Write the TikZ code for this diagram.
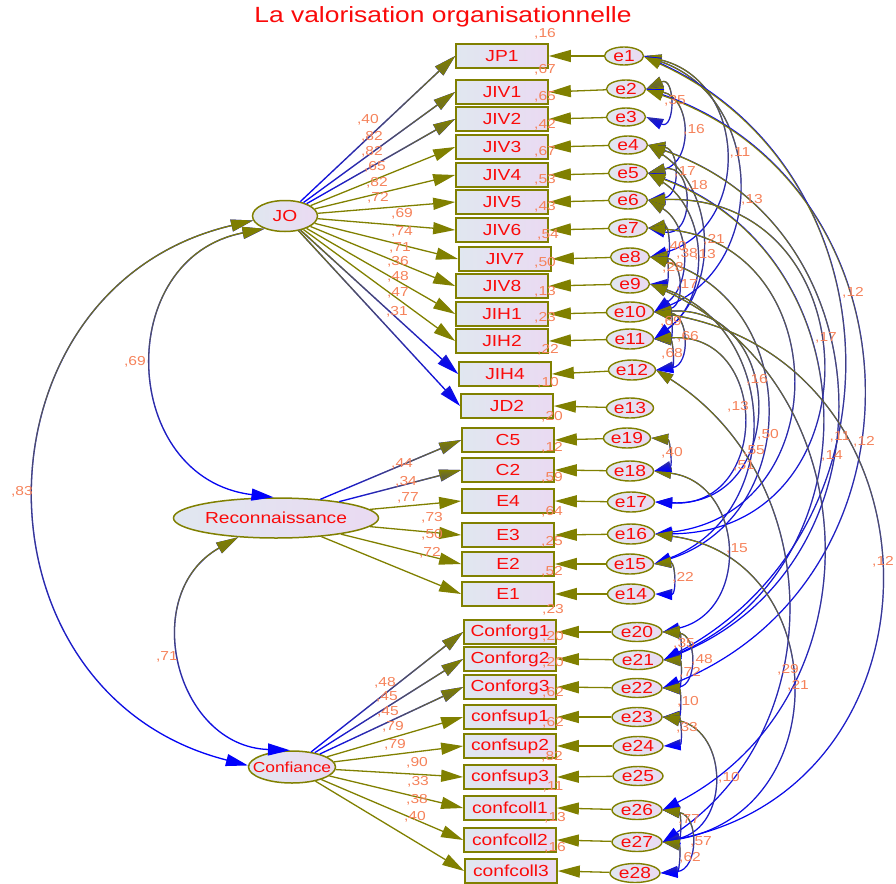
\documentclass[tikz,border=0pt]{standalone}
\usepackage{fontspec}
\newfontfamily\amosfont[FakeStretch=1.2]{Liberation Sans}
\usetikzlibrary{arrows.meta,fadings,shapes.geometric}
\definecolor{olv}{RGB}{128,128,0}
\definecolor{blu}{RGB}{0,0,255}
\definecolor{txr}{RGB}{250,10,10}
\definecolor{lbo}{RGB}{245,130,90}
\definecolor{fl}{RGB}{224,231,240}
\definecolor{fr}{RGB}{234,218,242}
\tikzfading[name=fadedown, top color=transparent!0, bottom color=transparent!100]
\newcommand\amosfs[1]{\amosfont\fontsize{#1}{#1}\selectfont}
\newcommand\cvarc[4][]{%
  \path (#2); \pgfgetlastxy{\cvAx}{\cvAy}%
  \path (#3); \pgfgetlastxy{\cvBx}{\cvBy}%
  \pgfmathsetmacro\cvHc{veclen(\cvBx-\cvAx,\cvBy-\cvAy)/2}%
  \pgfmathsetmacro\cvPh{2*atan((#4)/\cvHc)}%
  \pgfmathsetmacro\cvDd{4/3*abs(#4)/abs(sin(\cvPh))}%
  \draw[cvl,draw=blu,#1] (#2) to[bend left=\cvPh, distance=\cvDd pt] (#3);
  \draw[cvl,draw=olv,path fading=fadedown,#1] (#2) to[bend left=\cvPh, distance=\cvDd pt] (#3);
}
\newcommand\regf[2]{%
  \draw[reg,draw=blu] (#1) -- (#2);
  \draw[reg,path fading=fadedown] (#1) -- (#2);
}
\tikzset{
  obs/.style={draw=olv, line width=1.7pt, left color=fl, right color=fr,
    minimum width=92pt, minimum height=23.5pt, inner sep=0pt,
    font=\amosfs{16}, text=txr},
  err/.style={ellipse, draw=olv, line width=1.4pt, left color=fl, right color=fr,
    minimum width=39pt, minimum height=18pt, inner sep=0pt,
    font=\amosfs{16}, text=txr},
  errw/.style={err, minimum width=47pt, minimum height=20pt},
  errx/.style={err, minimum width=50pt, minimum height=19pt},
  lat/.style={ellipse, draw=olv, line width=1.5pt, left color=fl, right color=fr,
    inner sep=0pt, font=\amosfs{16}, text=txr},
  lbl/.style={font=\amosfs{13}, text=lbo, inner sep=0pt},
  reg/.style={draw=olv, line width=1.3pt, -{Triangle[length=22pt,width=12pt]}},
  cvl/.style={line width=1.2pt, {Triangle[length=17pt,width=11pt]}-{Triangle[length=17pt,width=11pt]}},
  lcv/.style={line width=1.3pt, {Triangle[length=22pt,width=12pt]}-{Triangle[length=22pt,width=12pt]}},
}
\begin{document}
\begin{tikzpicture}[x=1pt,y=-1pt]
\useasboundingbox (0,0) rectangle (896,883);
\node[font=\amosfs{22}, text=txr] (title) at (443,17) {La valorisation organisationnelle};
% observed variables
\node[obs] (JP1) at (502,56) {JP1};
\node[obs] (JIV1) at (502,92) {JIV1};
\node[obs] (JIV2) at (502,119) {JIV2};
\node[obs] (JIV3) at (502,147) {JIV3};
\node[obs] (JIV4) at (502,175) {JIV4};
\node[obs] (JIV5) at (502,202) {JIV5};
\node[obs] (JIV6) at (502,230) {JIV6};
\node[obs] (JIV7) at (505,259) {JIV7};
\node[obs] (JIV8) at (502,286) {JIV8};
\node[obs] (JIH1) at (502,314) {JIH1};
\node[obs] (JIH2) at (502,341) {JIH2};
\node[obs] (JIH4) at (505,374) {JIH4};
\node[obs] (JD2) at (507,406) {JD2};
\node[obs] (C5) at (508,440) {C5};
\node[obs] (C2) at (508,470) {C2};
\node[obs] (E4) at (508,501) {E4};
\node[obs] (E3) at (508,535) {E3};
\node[obs] (E2) at (508,564) {E2};
\node[obs] (E1) at (508,594) {E1};
\node[obs] (CO1) at (510,632) {Conforg1};
\node[obs] (CO2) at (510,659) {Conforg2};
\node[obs] (CO3) at (510,687) {Conforg3};
\node[obs] (CS1) at (510,717) {confsup1};
\node[obs] (CS2) at (510,746) {confsup2};
\node[obs] (CS3) at (510,777) {confsup3};
\node[obs] (CC1) at (510,808) {confcoll1};
\node[obs] (CC2) at (510,840) {confcoll2};
\node[obs] (CC3) at (511,871) {confcoll3};
% errors
\node[err] (e1) at (624,56) {e1};
\node[err] (e2) at (626,89) {e2};
\node[err] (e3) at (626,117) {e3};
\node[err] (e4) at (628,145) {e4};
\node[err] (e5) at (628,173) {e5};
\node[err] (e6) at (628,200) {e6};
\node[err] (e7) at (628,228) {e7};
\node[err] (e8) at (630,257) {e8};
\node[err] (e9) at (630,284) {e9};
\node[errw] (e10) at (630,312) {e10};
\node[errw] (e11) at (630,339) {e11};
\node[errw] (e12) at (632,370) {e12};
\node[errw] (e13) at (630,408) {e13};
\node[errw] (e19) at (627,438) {e19};
\node[errw] (e18) at (630,471) {e18};
\node[errw] (e17) at (631,502) {e17};
\node[errw] (e16) at (631,534) {e16};
\node[errw] (e15) at (630,564) {e15};
\node[errw] (e14) at (631,594) {e14};
\node[errx] (e20) at (637,632) {e20};
\node[errx] (e21) at (638,660) {e21};
\node[errx] (e22) at (637,688) {e22};
\node[errx] (e23) at (637,717) {e23};
\node[errx] (e24) at (638,746) {e24};
\node[errx] (e25) at (638,776) {e25};
\node[errx] (e26) at (637,810) {e26};
\node[errx] (e27) at (637,842) {e27};
\node[errx] (e28) at (635,873) {e28};
% latent
\node[lat, minimum width=65pt, minimum height=31pt] (JO) at (285,216) {JO};
\node[lat, minimum width=205pt, minimum height=40pt] (REC) at (276,518) {Reconnaissance};
\node[lat, minimum width=87pt, minimum height=32pt, inner xsep=-11pt, font=\amosfs{14.5}] (CONF) at (292,767) {Confiance};
% error arrows
\foreach \e/\b in {e1/JP1,e2/JIV1,e3/JIV2,e4/JIV3,e5/JIV4,e6/JIV5,e7/JIV6,e8/JIV7,e9/JIV8,e10/JIH1,e11/JIH2,e12/JIH4,e13/JD2,e19/C5,e18/C2,e17/E4,e16/E3,e15/E2,e14/E1,e20/CO1,e21/CO2,e22/CO3,e23/CS1,e24/CS2,e25/CS3,e26/CC1,e27/CC2,e28/CC3}
  \draw[reg] (\e) -- (\b.east);
% loadings
\regf{JO}{JP1.west}
\regf{JO}{JIV1.west}
\regf{JO}{JIV2.west}
\foreach \b in {JIV3,JIV4,JIV5,JIV6,JIV7,JIV8,JIH1,JIH2}
  \draw[reg] (JO) -- (\b.west);
\regf{JO}{JIH4.west}
\regf{JO}{JD2.west}
\regf{REC}{C5.west}
\regf{REC}{C2.west}
\foreach \b in {E4,E3,E2,E1}
  \draw[reg] (REC) -- (\b.west);
\regf{CONF}{CO1.west}
\regf{CONF}{CO2.west}
\regf{CONF}{CO3.west}
\foreach \b in {CS1,CS2,CS3,CC1,CC2,CC3}
  \draw[reg] (CONF) -- (\b.west);
% latent covariances
\cvarc[lcv]{JO.212}{REC.97}{-115}
\cvarc[lcv]{JO.188}{CONF.178}{-214}
\cvarc[lcv]{REC.207}{CONF.97}{-83}
% error covariances
\cvarc{e2.east}{e3.east}{22}
\cvarc{e2.east}{e5.east}{34}
\cvarc{e4.east}{e6.east}{24}
\cvarc{e5.east}{e7.east}{35}
\cvarc{e1.east}{e8.east}{77}
\cvarc{e1.east}{e10.east}{88}
\cvarc{e4.east}{e11.east}{50}
\cvarc{e5.east}{e11.east}{44}
\cvarc{e6.east}{e10.east}{30}
\cvarc{e7.east}{e8.east}{16}
\cvarc{e8.east}{e9.east}{14}
\cvarc{e8.east}{e10.east}{24}
\cvarc{e10.east}{e11.east}{14}
\cvarc{e10.east}{e12.east}{26}
\cvarc{e11.east}{e12.east}{14}
\cvarc{e1.east}{e21.east}{188}
\cvarc{e2.east}{e22.east}{207}
\cvarc{e4.east}{e21.east}{179}
\cvarc{e5.east}{e21.east}{164}
\cvarc{e6.east}{e16.east}{169}
\cvarc{e7.east}{e16.east}{139}
\cvarc{e8.east}{e15.east}{113}
\cvarc{e9.east}{e15.east}{98}
\cvarc{e10.east}{e17.east}{100}
\cvarc{e11.east}{e17.east}{87}
\cvarc{e10.east}{e27.east}{221}
\cvarc{e12.east}{e27.east}{127}
\cvarc{e16.east}{e27.east}{132}
\cvarc{e18.east}{e20.east}{67}
\cvarc{e9.east}{e26.east}{165}
\cvarc{e19.east}{e18.east}{14}
\cvarc{e15.east}{e14.east}{16}
\cvarc{e20.east}{e21.east}{14}
\cvarc{e20.east}{e22.east}{26}
\cvarc{e21.east}{e22.east}{14}
\cvarc{e22.east}{e23.east}{14}
\cvarc{e23.east}{e24.east}{14}
\cvarc{e23.east}{e27.east}{50}
\cvarc{e26.east}{e27.east}{14}
\cvarc{e26.east}{e28.east}{28}
\cvarc{e27.east}{e28.east}{14}
% loading labels
\node[lbl] (r1) at (368,120) {,40};
\node[lbl] (r2) at (372,137) {,82};
\node[lbl] (r3) at (372,152) {,82};
\node[lbl] (r4) at (375,167) {,65};
\node[lbl] (r5) at (377,183) {,82};
\node[lbl] (r6) at (378,198) {,72};
\node[lbl] (r7) at (402,214) {,69};
\node[lbl] (r8) at (402,232) {,74};
\node[lbl] (r9) at (400,248) {,71};
\node[lbl] (r10) at (398,262) {,36};
\node[lbl] (r11) at (398,277) {,48};
\node[lbl] (r12) at (398,293) {,47};
\node[lbl] (r13) at (397,312) {,31};
\node[lbl] (r14) at (402,464) {,44};
\node[lbl] (r15) at (406,482) {,34};
\node[lbl] (r16) at (408,498) {,77};
\node[lbl] (r17) at (432,518) {,73};
\node[lbl] (r18) at (432,535) {,50};
\node[lbl] (r19) at (430,553) {,72};
\node[lbl] (r20) at (385,683) {,48};
\node[lbl] (r21) at (387,697) {,45};
\node[lbl] (r22) at (388,712) {,45};
\node[lbl] (r23) at (393,727) {,79};
\node[lbl] (r24) at (395,745) {,79};
\node[lbl] (r25) at (417,763) {,90};
\node[lbl] (r26) at (418,782) {,33};
\node[lbl] (r27) at (417,800) {,38};
\node[lbl] (r28) at (415,817) {,40};
\node[lbl] (r29) at (135,362) {,69};
\node[lbl] (r30) at (22,492) {,83};
\node[lbl] (r31) at (167,657) {,71};
% squared multiple correlations
\node[lbl] (q1) at (545,34) {,16};
\node[lbl] (q2) at (545,70) {,67};
\node[lbl] (q3) at (545,97) {,65};
\node[lbl] (q4) at (545,125) {,42};
\node[lbl] (q5) at (545,152) {,67};
\node[lbl] (q6) at (545,180) {,53};
\node[lbl] (q7) at (545,207) {,43};
\node[lbl] (q8) at (548,235) {,54};
\node[lbl] (q9) at (545,263) {,50};
\node[lbl] (q10) at (545,292) {,13};
\node[lbl] (q11) at (545,318) {,23};
\node[lbl] (q12) at (548,350) {,22};
\node[lbl] (q13) at (548,383) {,10};
\node[lbl] (q14) at (552,417) {,20};
\node[lbl] (q15) at (552,448) {,12};
\node[lbl] (q16) at (552,478) {,59};
\node[lbl] (q17) at (552,512) {,64};
\node[lbl] (q18) at (552,542) {,25};
\node[lbl] (q19) at (552,572) {,52};
\node[lbl] (q20) at (553,610) {,23};
\node[lbl] (q21) at (553,637) {,20};
\node[lbl] (q22) at (553,663) {,20};
\node[lbl] (q23) at (553,693) {,62};
\node[lbl] (q24) at (553,723) {,62};
\node[lbl] (q25) at (552,757) {,82};
\node[lbl] (q26) at (553,787) {,11};
\node[lbl] (q27) at (555,818) {,13};
\node[lbl] (q28) at (555,848) {,16};
% covariance labels
\node[lbl] (c1) at (675,101) {,35};
\node[lbl] (c2) at (694,130) {,16};
\node[lbl] (c3) at (685,172) {,17};
\node[lbl] (c4) at (697,186) {,18};
\node[lbl] (c5) at (740,153) {,11};
\node[lbl] (c6) at (752,200) {,13};
\node[lbl] (c7) at (714,240) {,21};
\node[lbl] (c8) at (676,247) {,40};
\node[lbl] (c9) at (687,254) {,38};
\node[lbl] (c10) at (705,255) {,13};
\node[lbl] (c11) at (673,268) {,28};
\node[lbl] (c12) at (687,285) {,17};
\node[lbl] (c13) at (671,322) {,69};
\node[lbl] (c14) at (688,337) {,66};
\node[lbl] (c15) at (672,354) {,68};
\node[lbl] (c16) at (853,293) {,12};
\node[lbl] (c17) at (864,442) {,12};
\node[lbl] (c18) at (840,437) {,11};
\node[lbl] (c19) at (832,456) {,14};
\node[lbl] (c20) at (826,338) {,17};
\node[lbl] (c21) at (768,435) {,50};
\node[lbl] (c22) at (754,451) {,55};
\node[lbl] (c23) at (744,466) {,51};
\node[lbl] (c24) at (757,380) {,16};
\node[lbl] (c25) at (738,407) {,13};
\node[lbl] (c26) at (883,562) {,12};
\node[lbl] (c27) at (788,670) {,29};
\node[lbl] (c28) at (798,686) {,21};
\node[lbl] (c29) at (737,549) {,15};
\node[lbl] (c30) at (672,453) {,40};
\node[lbl] (c31) at (683,578) {,22};
\node[lbl] (c32) at (684,644) {,35};
\node[lbl] (c33) at (702,660) {,48};
\node[lbl] (c34) at (690,673) {,72};
\node[lbl] (c35) at (688,702) {,10};
\node[lbl] (c36) at (687,728) {,33};
\node[lbl] (c37) at (729,778) {,10};
\node[lbl] (c38) at (689,820) {,77};
\node[lbl] (c39) at (701,842) {,57};
\node[lbl] (c40) at (690,858) {,62};
\end{tikzpicture}
\end{document}
